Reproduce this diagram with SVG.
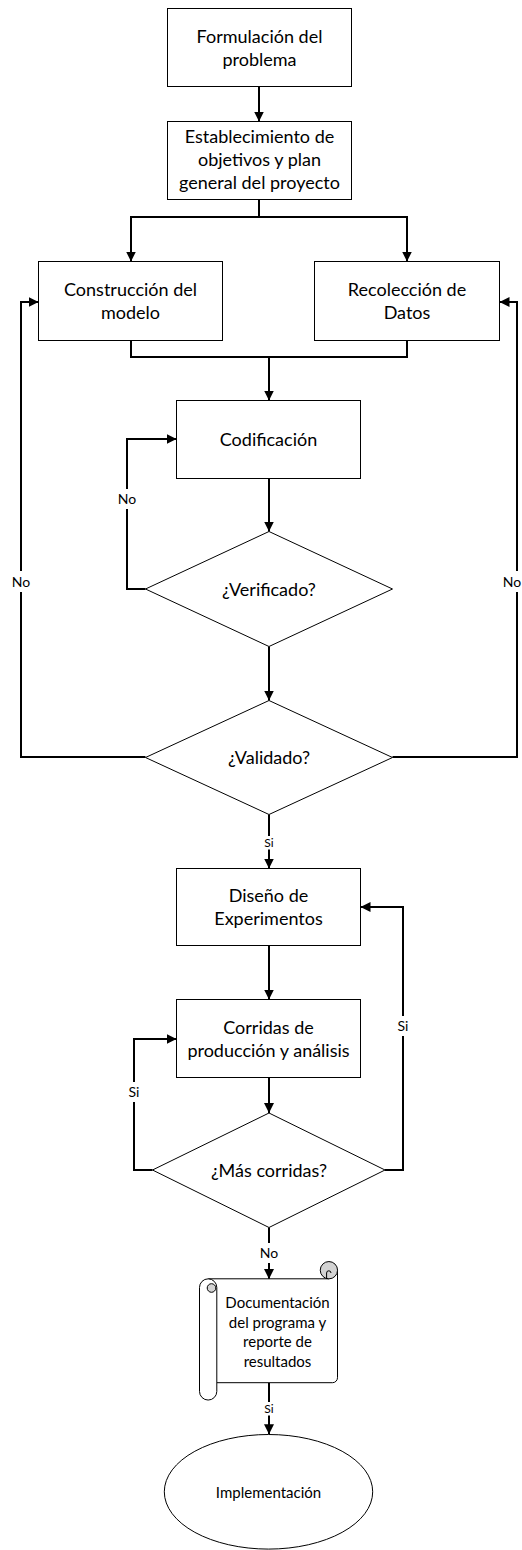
<svg xmlns="http://www.w3.org/2000/svg" width="522" height="1550" viewBox="0 0 522 1550">
  <style>
    .box { fill: #fff; stroke: #000; stroke-width: 1; }
    .conn { fill: none; stroke: #000; stroke-width: 2; }
    .arrow { marker-end: url(#head); }
    .t { font-family: Lato, "Liberation Sans", sans-serif; font-size: 18px; fill: #000; text-anchor: middle; }
    .doc { font-size: 15px; }
    .lbl { font-size: 14px; }
    .sm { font-size: 12px; }
    .bg { fill: #fff; }
    .roll { fill: #d3d3d3; stroke: #000; stroke-width: 1; }
    .edge { fill: none; stroke: #000; stroke-width: 1; }
  </style>
  <defs>
    <marker id="head" markerUnits="userSpaceOnUse" markerWidth="10" markerHeight="10" refX="10" refY="5" orient="auto">
      <path d="M0,0 L10,5 L0,10 Z" fill="#000"/>
    </marker>
  </defs>

  <rect width="522" height="1550" fill="#fff"/>

  <!-- connectors -->
  <g id="connectors">
    <path class="conn arrow" d="M259,86.5 V121.5"/>
    <path class="conn arrow" d="M259,199.5 V217 H131 V261.5"/>
    <path class="conn arrow" d="M259,217 H407 V261.5"/>
    <path class="conn" d="M131,340.5 V357 H407 V340.5"/>
    <path class="conn arrow" d="M269,357 V400.5"/>
    <path class="conn arrow" d="M269,478.5 V531.5"/>
    <path class="conn arrow" d="M145.5,589 H127 V439 H176.5"/>
    <path class="conn arrow" d="M269,646.5 V700.5"/>
    <path class="conn arrow" d="M145.5,757 H21 V302 H38.5"/>
    <path class="conn arrow" d="M392.5,757 H517 V302 H499.5"/>
    <path class="conn arrow" d="M269,814.5 V868.5"/>
    <path class="conn arrow" d="M269,945.5 V999.5"/>
    <path class="conn arrow" d="M269,1077.5 V1113"/>
    <path class="conn arrow" d="M152.5,1170 H134 V1039 H176.5"/>
    <path class="conn arrow" d="M385,1170 H403 V907 H360.5"/>
    <path class="conn arrow" d="M269,1227.5 V1279"/>
    <path class="conn arrow" d="M269,1382.7 V1434.3"/>

    <!-- connector labels -->
    <rect class="bg" x="116" y="489" width="22" height="20"/>
    <text class="t lbl" x="127" y="503.5">No</text>
    <rect class="bg" x="10" y="571" width="22" height="21"/>
    <text class="t lbl" x="21" y="587.3">No</text>
    <rect class="bg" x="502" y="571" width="20" height="21"/>
    <text class="t lbl" x="512" y="587.3">No</text>
    <rect class="bg" x="261" y="836" width="16" height="13.5"/>
    <text class="t sm" x="269" y="846.5">Si</text>
    <rect class="bg" x="125" y="1082" width="18" height="20"/>
    <text class="t lbl" x="134" y="1097.3">Si</text>
    <rect class="bg" x="394" y="1016" width="18" height="20"/>
    <text class="t lbl" x="403" y="1031">Si</text>
    <rect class="bg" x="258" y="1243" width="22" height="20"/>
    <text class="t lbl" x="269" y="1258.3">No</text>
    <rect class="bg" x="261" y="1402" width="16" height="13.5"/>
    <text class="t sm" x="269" y="1412.7">Si</text>
  </g>

  <g id="formulacion">
    <rect class="box" x="167.5" y="8.5" width="184" height="78"/>
    <text class="t" x="259.5" y="42.5">Formulación del</text>
    <text class="t" x="259.5" y="65.5">problema</text>
  </g>

  <g id="objetivos">
    <rect class="box" x="167.5" y="121.5" width="184" height="78"/>
    <text class="t" x="259.5" y="143">Establecimiento de</text>
    <text class="t" x="259.5" y="166">objetivos y plan</text>
    <text class="t" x="259.5" y="189">general del proyecto</text>
  </g>

  <g id="construccion">
    <rect class="box" x="38.5" y="261.5" width="184" height="79"/>
    <text class="t" x="130.5" y="296">Construcción del</text>
    <text class="t" x="130.5" y="319">modelo</text>
  </g>

  <g id="recoleccion">
    <rect class="box" x="314.5" y="261.5" width="185" height="79"/>
    <text class="t" x="407" y="296">Recolección de</text>
    <text class="t" x="407" y="319">Datos</text>
  </g>

  <g id="codificacion">
    <rect class="box" x="176.5" y="400.5" width="184" height="78"/>
    <text class="t" x="268.5" y="445.5">Codificación</text>
  </g>

  <g id="verificado">
    <polygon class="box" points="269,531.5 392.5,589 269,646.5 145.5,589"/>
    <text class="t" x="269" y="595.5">¿Verificado?</text>
  </g>

  <g id="validado">
    <polygon class="box" points="269,700.5 392.5,757.5 269,814.5 145.5,757.5"/>
    <text class="t" x="269" y="764">¿Validado?</text>
  </g>

  <g id="diseno">
    <rect class="box" x="176.5" y="868.5" width="184" height="77"/>
    <text class="t" x="268.5" y="901.5">Diseño de</text>
    <text class="t" x="268.5" y="924.5">Experimentos</text>
  </g>

  <g id="corridas">
    <rect class="box" x="176.5" y="999.5" width="184" height="78"/>
    <text class="t" x="268.5" y="1033.5">Corridas de</text>
    <text class="t" x="268.5" y="1056.5">producción y análisis</text>
  </g>

  <g id="mas-corridas">
    <polygon class="box" points="269,1113 385,1170 269,1227.5 152.5,1170"/>
    <text class="t" x="269" y="1176.5">¿Más corridas?</text>
  </g>

  <!-- vertical scroll document shape -->
  <g id="documentacion">
    <path d="M208.2,1278.8 H328.9 V1270.2 H337.5 V1377.7 A5,5 0 0 1 332.5,1382.7 H208.2 Z" fill="#fff"/>
    <path class="edge" d="M208.2,1278.8 H328.9"/>
    <path class="edge" d="M337.5,1270.2 V1377.7 A5,5 0 0 1 332.5,1382.7 H216.8"/>
    <circle class="roll" cx="328.9" cy="1270.2" r="8.65"/>
    <path class="edge" d="M326.6,1278.8 V1273 A2.2,2.2 0 0 1 331,1273"/>
    <path d="M199.5,1287.5 A8.65,8.65 0 0 1 216.8,1287.5 V1391.4 A8.65,8.65 0 0 1 199.5,1391.4 Z" fill="#fff" stroke="#000" stroke-width="1"/>
    <circle class="roll" cx="211.5" cy="1288" r="4.3"/>
    <text class="t doc" x="277.5" y="1308">Documentación</text>
    <text class="t doc" x="277.5" y="1327.5">del programa y</text>
    <text class="t doc" x="277.5" y="1347">reporte de</text>
    <text class="t doc" x="277.5" y="1366.5">resultados</text>
  </g>

  <g id="implementacion">
    <ellipse class="box" cx="268.5" cy="1491.8" rx="104.2" ry="57.3"/>
    <text class="t doc" x="268.5" y="1498.3">Implementación</text>
  </g>
</svg>
